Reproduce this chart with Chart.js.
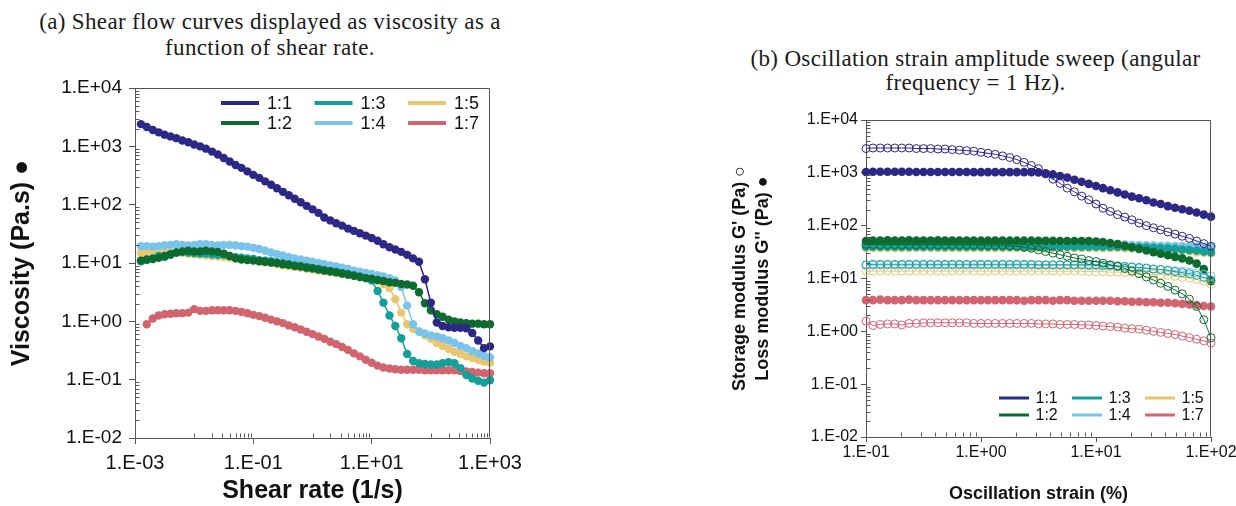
<!DOCTYPE html>
<html>
<head>
<meta charset="utf-8">
<style>
  html, body { margin: 0; padding: 0; background: #fff; overflow: hidden; }
  body { width: 1236px; height: 506px; position: relative; }
  .caption { position: absolute; font-family: "Liberation Serif", "DejaVu Serif", serif; font-size: 23px; letter-spacing: 0.35px; color: #1a1a1a; text-align: center; white-space: nowrap; }
  .panel { position: absolute; top: 0; height: 506px; }
</style>
</head>
<body>

<div class="caption" style="left:0; top:9px; width:540px; line-height:26px;">(a) Shear flow curves displayed as viscosity as a<br>function of shear rate.</div>
<div class="caption" style="left:715px; top:47px; width:521px; line-height:24px;">(b) Oscillation strain amplitude sweep (angular<br>frequency = 1 Hz).</div>

<div class="panel" style="left:0; width:540px;"><canvas id="shearChart"></canvas></div>
<div class="panel" style="left:715px; width:540px;"><canvas id="strainChart"></canvas></div>

<script src="https://cdn.jsdelivr.net/npm/chart.js"></script>
<script>
// ---- data, panel (a): viscosity vs shear rate ----
const ratioLabels = ['1:1', '1:2', '1:3', '1:4', '1:5', '1:7'];
const ratioColors = ['#2d2785', '#0e6b30', '#14a098', '#7ac3eb', '#e9c670', '#d2646f'];

const shearRate = [
  0.00126, 0.00158, 0.002, 0.00251, 0.00316, 0.00398, 0.00501, 0.00631, 0.00794, 0.01,
  0.0126, 0.0158, 0.02, 0.0251, 0.0316, 0.0398, 0.0501, 0.0631, 0.0794, 0.1,
  0.126, 0.158, 0.2, 0.251, 0.316, 0.398, 0.501, 0.631, 0.794, 1,
  1.26, 1.58, 2, 2.51, 3.16, 3.98, 5.01, 6.31, 7.94, 10,
  12.6, 15.8, 20, 25.1, 31.6, 39.8, 50.1, 63.1, 79.4, 100,
  126, 158, 200, 251, 316, 398, 501, 631, 794, 1000
];
const visc11 = [
  2400, 2140, 1905, 1738, 1585, 1479, 1380, 1259, 1175, 1072,
  1000, 912, 813, 724, 631, 550, 479, 427, 372, 324,
  288, 251, 219, 191, 166, 145, 126, 110, 95.5, 83.2,
  72.4, 60.3, 53.7, 47.9, 43.7, 38.9, 35.5, 32.4, 29.5, 26.9,
  24.0, 20.9, 18.6, 17.0, 15.5, 13.8, 12.0, 10.5, 5.25, 2.09,
  0.955, 0.832, 0.794, 0.776, 0.776, 0.759, 0.631, 0.468, 0.347, 0.372
];
const visc12 = [
  11.0, 11.5, 11.7, 12.3, 13.2, 14.1, 15.1, 15.8, 16.2, 15.8,
  15.8, 16.2, 15.8, 15.5, 14.5, 13.2, 12.0, 11.5, 11.2, 11.0,
  10.7, 10.5, 10.2, 10.0, 9.55, 9.33, 8.91, 8.71, 8.32, 8.13,
  7.76, 7.41, 7.24, 6.92, 6.61, 6.31, 6.03, 5.75, 5.50, 5.37,
  5.13, 4.90, 4.68, 4.57, 4.37, 4.27, 4.07, 3.16, 2.04, 1.55,
  1.32, 1.20, 1.07, 1.00, 0.955, 0.933, 0.912, 0.912, 0.891, 0.891
];
const visc13 = [
  10.7, 11.2, 12.0, 13.2, 12.6, 13.8, 15.1, 15.5, 15.1, 14.8,
  14.5, 14.5, 14.1, 13.8, 13.8, 13.2, 12.6, 12.3, 12.0, 11.7,
  11.2, 11.0, 10.7, 10.2, 10.0, 9.55, 9.12, 8.91, 8.51, 8.13,
  7.94, 7.59, 7.24, 7.08, 6.76, 6.46, 6.17, 5.89, 5.50, 5.01,
  3.31, 2.09, 1.26, 0.832, 0.513, 0.275, 0.209, 0.191, 0.186, 0.182,
  0.182, 0.191, 0.200, 0.191, 0.158, 0.120, 0.105, 0.0955, 0.0891, 0.0977
];
const visc14 = [
  19.5, 19.5, 19.1, 19.5, 20.0, 20.4, 20.9, 20.4, 20.0, 20.4,
  20.9, 20.9, 20.4, 20.0, 20.4, 20.4, 20.0, 19.5, 19.1, 18.2,
  17.4, 16.2, 15.1, 14.1, 13.5, 12.6, 12.0, 11.5, 11.0, 10.5,
  10.0, 9.55, 9.12, 8.71, 8.32, 7.94, 7.41, 7.08, 6.76, 6.46,
  6.17, 5.89, 5.50, 5.01, 3.89, 1.86, 0.891, 0.661, 0.617, 0.575,
  0.550, 0.513, 0.468, 0.427, 0.380, 0.347, 0.309, 0.282, 0.257, 0.240
];
const visc15 = [
  14.8, 15.1, 15.1, 15.5, 15.5, 15.1, 15.1, 14.8, 14.5, 14.1,
  13.8, 13.5, 13.2, 12.9, 12.6, 12.3, 12.0, 11.7, 11.5, 11.2,
  10.7, 10.2, 10.0, 9.55, 9.12, 8.91, 8.51, 8.32, 7.94, 7.76,
  7.41, 7.24, 6.92, 6.76, 6.46, 6.31, 6.03, 5.75, 5.62, 5.37,
  4.90, 4.37, 3.72, 2.40, 1.41, 0.891, 0.741, 0.676, 0.575, 0.501,
  0.427, 0.380, 0.339, 0.302, 0.275, 0.251, 0.234, 0.219, 0.204, 0.195
];
const visc17 = [
  null, 0.891, 1.12, 1.26, 1.32, 1.35, 1.38, 1.38, 1.41, 1.62,
  1.51, 1.51, 1.55, 1.55, 1.55, 1.55, 1.51, 1.45, 1.38, 1.29,
  1.23, 1.15, 1.07, 1.00, 0.933, 0.851, 0.794, 0.724, 0.661, 0.603,
  0.550, 0.501, 0.447, 0.407, 0.363, 0.324, 0.282, 0.251, 0.219, 0.195,
  0.174, 0.162, 0.155, 0.151, 0.148, 0.148, 0.148, 0.148, 0.145, 0.145,
  0.145, 0.145, 0.145, 0.145, 0.141, 0.138, 0.135, 0.132, 0.129, 0.129
];

// ---- data, panel (b): G' (open) and G'' (filled) vs strain ----
const strainPct = [
  0.1, 0.115, 0.133, 0.154, 0.178, 0.205, 0.237, 0.274, 0.316, 0.365, 0.422, 0.487, 0.562, 0.649, 0.75, 0.866,
  1, 1.15, 1.33, 1.54, 1.78, 2.05, 2.37, 2.74, 3.16, 3.65, 4.22, 4.87, 5.62, 6.49, 7.5, 8.66,
  10, 11.5, 13.3, 15.4, 17.8, 20.5, 23.7, 27.4, 31.6, 36.5, 42.2, 48.7, 56.2, 64.9, 75, 86.6,
  100
];
const storage11 = [
  2880, 2950, 2950, 2950, 2950, 2950, 2950, 2880, 2880, 2880, 2820, 2820, 2750, 2690, 2630, 2570,
  2450, 2340, 2240, 2090, 1950, 1780, 1580, 1380, 1200, 955, 759, 631, 513, 437, 363, 309,
  257, 214, 186, 162, 145, 129, 112, 100, 91.2, 83.2, 75.9, 69.2, 63.1, 57.5, 51.3, 45.7,
  40.7
];
const loss11 = [
  1040, 1050, 1050, 1050, 1050, 1050, 1050, 1040, 1040, 1040, 1040, 1040, 1040, 1040, 1040, 1030,
  1030, 1030, 1030, 1030, 1030, 1030, 1030, 1030, 1020, 977, 933, 871, 813, 741, 676, 617,
  562, 513, 468, 427, 389, 355, 331, 302, 275, 257, 234, 219, 204, 191, 178, 162,
  148
];
const storage12 = [
  44.2, 43.9, 43.7, 43.7, 43.9, 43.7, 43.7, 43.5, 43.7, 43.7, 43.5, 43.7, 43.7, 43.5, 43.5, 43.3,
  43.3, 43.0, 43.0, 42.7, 41.7, 40.7, 38.9, 37.2, 34.7, 32.4, 30.2, 28.2, 26.3, 24.5, 23.4, 21.9,
  20.9, 19.5, 18.2, 17.0, 15.5, 13.8, 12.3, 10.7, 9.33, 8.13, 7.08, 6.03, 5.13, 4.07, 2.95, 1.66,
  0.759
];
const loss12 = [
  51.3, 52.5, 52.5, 53.0, 52.5, 52.5, 53.0, 52.5, 52.5, 52.5, 53.0, 52.5, 52.5, 52.5, 52.5, 52.5,
  52.0, 52.5, 52.5, 52.5, 52.0, 52.0, 52.0, 52.0, 51.5, 51.5, 51.5, 51.3, 51.3, 51.3, 51.3, 51.3,
  50.1, 49.0, 46.8, 44.7, 41.7, 38.9, 36.3, 33.9, 31.6, 29.5, 27.5, 25.7, 24.0, 21.9, 19.1, 15.1,
  8.91
];
const storage13 = [
  18.2, 18.6, 18.6, 18.6, 18.6, 18.6, 18.6, 18.6, 18.6, 18.6, 18.6, 18.6, 18.6, 18.6, 18.6, 18.6,
  18.6, 18.6, 18.6, 18.6, 18.6, 18.6, 18.6, 18.6, 18.2, 18.2, 18.2, 18.2, 18.2, 18.2, 18.2, 18.2,
  18.2, 17.8, 17.8, 17.4, 17.0, 16.6, 16.2, 15.8, 15.1, 14.8, 14.1, 13.5, 12.9, 12.3, 11.5, 10.5,
  9.33
];
const loss13 = [
  39.8, 39.8, 39.8, 39.8, 39.8, 39.8, 39.8, 39.8, 39.8, 39.8, 39.8, 39.8, 39.8, 39.8, 39.8, 39.8,
  39.8, 39.8, 39.8, 39.8, 39.8, 39.8, 39.8, 39.8, 39.8, 39.8, 39.8, 39.8, 39.8, 39.8, 39.8, 39.8,
  39.8, 39.8, 39.8, 39.8, 39.8, 39.4, 39.0, 38.5, 38.0, 37.6, 37.2, 36.3, 35.5, 34.7, 33.9, 32.4,
  31.6
];
const storage14 = [
  17.8, 17.8, 17.8, 17.8, 17.8, 17.8, 17.8, 17.8, 17.8, 17.8, 17.8, 17.8, 17.8, 17.8, 17.8, 17.8,
  17.8, 17.8, 17.8, 17.8, 17.8, 17.8, 17.8, 17.8, 17.8, 17.8, 17.8, 17.8, 17.8, 17.8, 17.8, 17.4,
  17.4, 17.0, 17.0, 16.6, 16.6, 16.2, 15.8, 15.5, 15.1, 14.8, 14.5, 14.1, 13.8, 13.2, 12.6, 12.0,
  11.2
];
const loss14 = [
  43.7, 44.2, 43.7, 43.7, 44.2, 43.7, 43.7, 43.7, 44.2, 43.7, 43.7, 43.7, 43.7, 43.7, 43.7, 43.7,
  43.7, 43.7, 43.7, 43.7, 43.7, 43.7, 43.7, 43.7, 43.7, 43.7, 43.7, 43.7, 43.7, 43.7, 43.7, 43.7,
  43.7, 43.7, 43.7, 43.7, 43.7, 43.2, 42.7, 42.7, 42.2, 41.7, 41.7, 41.2, 40.7, 40.7, 40.3, 39.8,
  39.8
];
const storage15 = [
  13.8, 13.8, 13.8, 13.8, 13.8, 13.8, 13.8, 13.8, 13.8, 13.8, 13.8, 13.8, 13.8, 13.8, 13.8, 13.8,
  13.8, 13.8, 13.8, 13.8, 13.8, 13.8, 13.8, 13.8, 13.8, 13.8, 13.8, 13.8, 13.8, 13.8, 13.8, 13.5,
  13.5, 13.5, 13.2, 13.2, 12.9, 12.9, 12.6, 12.3, 12.0, 11.7, 11.5, 11.0, 10.5, 10.2, 9.55, 8.91,
  7.76
];
const loss15 = [
  38.0, 38.0, 38.0, 38.0, 38.0, 38.0, 38.0, 38.0, 38.0, 38.0, 38.0, 38.0, 38.0, 38.0, 38.0, 38.0,
  38.0, 38.0, 38.0, 38.0, 38.0, 38.0, 38.0, 38.0, 38.0, 38.0, 38.0, 38.0, 38.0, 38.0, 38.0, 38.0,
  38.0, 38.0, 38.0, 38.0, 37.6, 37.2, 36.7, 36.3, 35.5, 35.1, 34.7, 33.9, 33.1, 32.4, 31.6, 30.9,
  30.2
];
const storage17 = [
  1.55, 1.29, 1.35, 1.38, 1.38, 1.32, 1.41, 1.41, 1.45, 1.45, 1.45, 1.45, 1.45, 1.45, 1.45, 1.41,
  1.41, 1.41, 1.41, 1.41, 1.41, 1.41, 1.41, 1.41, 1.38, 1.38, 1.38, 1.35, 1.35, 1.35, 1.32, 1.32,
  1.29, 1.26, 1.23, 1.20, 1.15, 1.12, 1.10, 1.05, 1.00, 0.955, 0.912, 0.871, 0.813, 0.759, 0.708, 0.661,
  0.603
];
const loss17 = [
  3.89, 3.89, 3.98, 3.89, 3.89, 3.89, 3.98, 3.89, 3.89, 3.89, 3.89, 3.89, 3.89, 3.89, 3.89, 3.89,
  3.89, 3.89, 3.89, 3.89, 3.89, 3.89, 3.80, 3.89, 3.89, 3.89, 3.80, 3.89, 3.89, 3.80, 3.80, 3.80,
  3.80, 3.80, 3.80, 3.72, 3.72, 3.63, 3.63, 3.55, 3.55, 3.47, 3.47, 3.39, 3.31, 3.24, 3.16, 3.02,
  2.95
];

// axis tick values
const shearMajors = [1e-3, 1e-1, 1e1, 1e3];
const shearMinorDecades = [1e-2, 1, 1e2];
const strainMajors = [0.1, 1, 10, 100];
const strainMinorDecades = [0.1, 1, 10];
const modulusMajors = [1e-2, 1e-1, 1, 1e1, 1e2, 1e3, 1e4];
const modulusMinorDecades = [1e-2, 1e-1, 1, 1e1, 1e2, 1e3];

// ---- helpers ----
Chart.defaults.font.family = "'Liberation Sans', Arial, sans-serif";
Chart.defaults.color = '#111';

const AXIS = '#555';

function sciLabel(v) {
  const e = Math.round(Math.log10(v));
  return '1.E' + (e < 0 ? '-' : '+') + String(Math.abs(e)).padStart(2, '0');
}

function logTicks(majors, decades, mults) {
  const ticks = majors.map(v => ({ value: v, major: true }));
  decades.forEach(d => mults.forEach(m => ticks.push({ value: m * d, major: false })));
  return ticks.sort((a, b) => a.value - b.value);
}

function logAxis(min, max, majors, decades, mults, fontSize, pad, tickLen) {
  return {
    type: 'logarithmic',
    min: min,
    max: max,
    afterBuildTicks: s => { s.ticks = logTicks(majors, decades, mults); },
    ticks: {
      autoSkip: false,
      maxRotation: 0,
      minRotation: 0,
      padding: pad,
      font: { size: fontSize },
      color: '#111',
      callback: (v, i, t) => (t[i].major ? sciLabel(v) : '')
    },
    grid: {
      drawOnChartArea: false,
      drawTicks: true,
      tickLength: tickLen,
      tickColor: c => (c.tick && c.tick.major ? AXIS : 'rgba(0,0,0,0)')
    },
    border: { display: true, color: AXIS, width: 1 }
  };
}

// top/right frame plus short minor ticks drawn inside the plot
const frameTicks = {
  id: 'frameTicks',
  afterDraw(chart, args, o) {
    const { ctx, chartArea: a, scales } = chart;
    const L = Math.round(a.left) + 0.5, R = Math.round(a.right) - 0.5;
    const T = Math.round(a.top) + 0.5, B = Math.round(a.bottom) - 0.5;
    ctx.save();
    ctx.strokeStyle = AXIS;
    ctx.lineWidth = 1;
    ctx.beginPath();
    ctx.moveTo(L, T); ctx.lineTo(R, T); ctx.lineTo(R, B);
    scales.x.ticks.forEach(t => {
      if (t.major) return;
      const px = Math.round(scales.x.getPixelForValue(t.value)) + 0.5;
      ctx.moveTo(px, B); ctx.lineTo(px, B - o.minorLen);
    });
    scales.y.ticks.forEach(t => {
      if (t.major) return;
      const py = Math.round(scales.y.getPixelForValue(t.value)) + 0.5;
      ctx.moveTo(L, py); ctx.lineTo(L + o.minorLen, py);
    });
    ctx.stroke();
    ctx.restore();
  }
};

// two-row legend, items filled column by column
const gridLegend = {
  id: 'gridLegend',
  afterDraw(chart, args, o) {
    const { ctx, chartArea: a } = chart;
    ctx.save();
    ctx.font = o.font;
    ctx.textBaseline = 'middle';
    ctx.textAlign = 'left';
    ratioLabels.forEach((text, i) => {
      const x = a.left + o.left + Math.floor(i / 2) * o.colWidth;
      const y = a.top + o.top + (i % 2) * o.rowHeight;
      ctx.strokeStyle = ratioColors[i];
      ctx.lineWidth = o.lineWidth;
      ctx.beginPath();
      ctx.moveTo(x, y); ctx.lineTo(x + o.lineLength, y);
      ctx.stroke();
      ctx.fillStyle = '#111';
      ctx.fillText(text, x + o.lineLength + o.gap, y + 1);
    });
    ctx.restore();
  }
};

// ---- panel (a) ----
const viscSeries = [visc11, visc12, visc13, visc14, visc15, visc17];
const shearDatasets = viscSeries.map((vals, i) => ({
  label: ratioLabels[i],
  data: shearRate.map((x, j) => ({ x: x, y: vals[j] })),
  borderColor: ratioColors[i],
  backgroundColor: ratioColors[i],
  borderWidth: 1.5,
  pointRadius: 4.2,
  pointBorderWidth: 0,
  pointHoverRadius: 4.2,
  showLine: true,
  clip: false
}));

const shearX = logAxis(1e-3, 1e3, shearMajors, shearMinorDecades, [1, 2, 3, 4, 5, 6, 7, 8, 9], 20, 7, 6);
shearX.afterFit = s => { s.height = 68; };
shearX.title = { display: true, text: 'Shear rate (1/s)', color: '#111', font: { size: 25, weight: 'bold' }, padding: { top: 0, bottom: 0 } };

const shearY = logAxis(1e-2, 1e4, modulusMajors, modulusMinorDecades, [2, 3, 4, 5, 6, 7, 8, 9], 19, 7, 6);
shearY.afterFit = s => { s.width = 135; };
shearY.title = { display: true, text: 'Viscosity (Pa.s) ●', color: '#111', font: { size: 25, weight: 'bold' }, padding: { top: 7, bottom: 0 } };

new Chart(document.getElementById('shearChart'), {
  type: 'scatter',
  data: { datasets: shearDatasets },
  options: {
    responsive: true,
    maintainAspectRatio: false,
    animation: false,
    events: [],
    layout: { padding: { top: 88, right: 50, bottom: 0, left: 0 } },
    scales: { x: shearX, y: shearY },
    plugins: {
      legend: { display: false },
      tooltip: { enabled: false },
      frameTicks: { minorLen: 4 },
      gridLegend: { left: 86, top: 15, colWidth: 93.5, rowHeight: 20, lineLength: 38, gap: 8, lineWidth: 4, font: "18px 'Liberation Sans', Arial, sans-serif" }
    }
  },
  plugins: [frameTicks, gridLegend]
});

// ---- panel (b) ----
const storageSeries = [storage11, storage12, storage13, storage14, storage15, storage17];
const lossSeries = [loss11, loss12, loss13, loss14, loss15, loss17];

const openDatasets = storageSeries.map((vals, i) => ({
  label: ratioLabels[i] + " G'",
  data: strainPct.map((x, j) => ({ x: x, y: vals[j] })),
  borderColor: ratioColors[i],
  backgroundColor: 'rgba(255,255,255,0)',
  pointBorderColor: ratioColors[i],
  pointBackgroundColor: 'rgba(255,255,255,0)',
  borderWidth: 1,
  pointRadius: 4,
  pointBorderWidth: 1,
  pointHoverRadius: 4,
  showLine: true,
  clip: false
}));
const filledDatasets = lossSeries.map((vals, i) => ({
  label: ratioLabels[i] + ' G"',
  data: strainPct.map((x, j) => ({ x: x, y: vals[j] })),
  borderColor: ratioColors[i],
  backgroundColor: ratioColors[i],
  borderWidth: 1.5,
  pointRadius: 4.3,
  pointBorderWidth: 0,
  pointHoverRadius: 4.3,
  showLine: true,
  clip: false
}));

const strainX = logAxis(0.1, 100, strainMajors, strainMinorDecades, [2, 3, 4, 5, 6, 7, 8, 9], 16, 1, 5);
strainX.afterFit = s => { s.height = 69; };
strainX.title = { display: true, text: 'Oscillation strain (%)', color: '#111', font: { size: 18, weight: 'bold' }, padding: { top: 0, bottom: 1 } };

const strainY = logAxis(1e-2, 1e4, modulusMajors, modulusMinorDecades, [2, 3, 4, 5, 6, 7, 8, 9], 16, 3, 5);
strainY.afterFit = s => { s.width = 151; };
strainY.title = {
  display: true,
  text: ["Storage modulus G' (Pa) ○", "Loss modulus G'' (Pa) ●"],
  color: '#111',
  font: { size: 18, weight: 'bold', lineHeight: 1.25 },
  padding: { top: 14, bottom: 0 }
};

new Chart(document.getElementById('strainChart'), {
  type: 'scatter',
  data: { datasets: openDatasets.concat(filledDatasets) },
  options: {
    responsive: true,
    maintainAspectRatio: false,
    animation: false,
    events: [],
    layout: { padding: { top: 120, right: 44, bottom: 0, left: 0 } },
    scales: { x: strainX, y: strainY },
    plugins: {
      legend: { display: false },
      tooltip: { enabled: false },
      frameTicks: { minorLen: 4 },
      gridLegend: { left: 133, top: 278, colWidth: 73, rowHeight: 17, lineLength: 30, gap: 6.5, lineWidth: 3, font: "16px 'Liberation Sans', Arial, sans-serif" }
    }
  },
  plugins: [frameTicks, gridLegend]
});
</script>

</body>
</html>
